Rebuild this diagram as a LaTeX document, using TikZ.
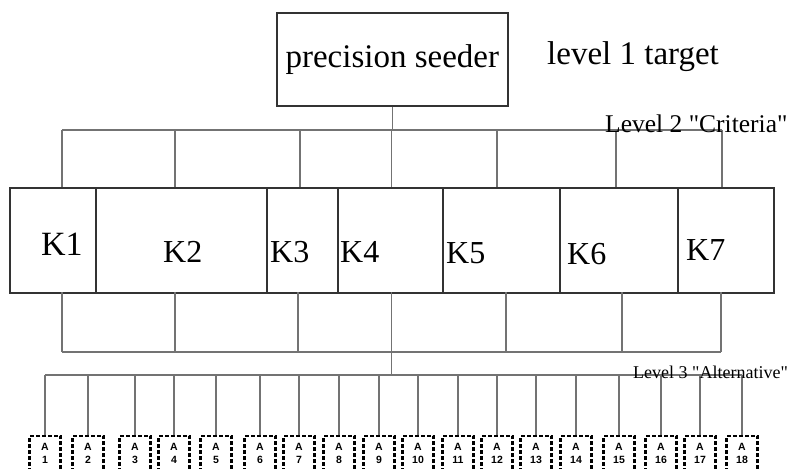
\documentclass[tikz,border=0pt]{standalone}
\usepackage{fontspec}
\setmainfont{Liberation Serif}
\setsansfont{Liberation Sans}
\newfontfamily\plainq{Liberation Serif}
\begin{document}
\begin{tikzpicture}[x=1pt,y=-1pt,
  conn/.style={draw=black!55, line width=1.3pt},
  frame/.style={draw=black!80, line width=1.6pt, inner sep=0pt, anchor=north west},
  klabel/.style={font=\fontsize{32}{34}\selectfont, inner sep=0pt, anchor=base west},
  altbox/.style={draw=black, line width=2.2pt, dash pattern=on 4pt off 2pt,
    minimum width=31pt, minimum height=50pt, inner sep=0pt, anchor=north},
  alttext/.style={inner sep=0pt, align=center,
    font=\sffamily\bfseries\fontsize{10.5}{13}\selectfont},
  lvl/.style={inner sep=0pt, anchor=base west}
]
\clip (0,0) rectangle (796,469);
\fill[white] (0,0) rectangle (796,469);

% level 1
\node[frame, minimum width=231pt, minimum height=93pt,
      font=\fontsize{33}{36}\selectfont] (goal) at (276,12) {precision seeder};
\node[lvl, font=\fontsize{33}{36}\selectfont] (l1) at (547,64) {level 1 target};

% criteria boxes
\node[frame, minimum width=86pt,  minimum height=105pt] (k1) at (9,187) {};
\node[frame, minimum width=171pt, minimum height=105pt] (k2) at (95,187) {};
\node[frame, minimum width=71pt,  minimum height=105pt] (k3) at (266,187) {};
\node[frame, minimum width=105pt, minimum height=105pt] (k4) at (337,187) {};
\node[frame, minimum width=117pt, minimum height=105pt] (k5) at (442,187) {};
\node[frame, minimum width=118pt, minimum height=105pt] (k6) at (559,187) {};
\node[frame, minimum width=96pt,  minimum height=105pt] (k7) at (677,187) {};

\node[klabel, font=\fontsize{34}{36}\selectfont] (k1l) at (41,255) {K1};
\node[klabel] (k2l) at (163,262) {K2};
\node[klabel] (k3l) at (270,262) {K3};
\node[klabel] (k4l) at (340,262) {K4};
\node[klabel] (k5l) at (446,263) {K5};
\node[klabel] (k6l) at (567,264) {K6};
\node[klabel] (k7l) at (686,260) {K7};

% top connectors
\coordinate (tb) at (391.5,130);
\coordinate (tl) at (62,130);
\coordinate (tr) at (722,130);
\draw[conn] (goal.south) -- (goal.south |- tb);
\draw[conn] (tl) -- (tr);
\foreach \x [count=\i] in {62,175,300,391.5,497,616,722}{
  \coordinate (tu\i) at (\x,130);
  \coordinate (td\i) at (\x,187);
  \draw[conn] (tu\i) -- (td\i);
}

% bottom connectors
\coordinate (bl) at (62,352);
\coordinate (br) at (721,352);
\foreach \x [count=\i] in {62,175,298,391.5,506,622,721}{
  \coordinate (bu\i) at (\x,292);
  \coordinate (bd\i) at (\x,352);
  \draw[conn] (bu\i) -- (bd\i);
}
\draw[conn] (bl) -- (br);
\coordinate (am) at (391.5,375);
\draw[conn] (bd4) -- (am);
\coordinate (al) at (45,375);
\coordinate (ar) at (742,375);
\draw[conn] (al) -- (ar);

% alternatives
\foreach \x [count=\i] in {45,88,135,174,216,260,299,339,379,418,458,497,536,576,619,661,700,742}{
  \coordinate (ab\i) at (\x,375);
  \node[altbox] (a\i) at (\x,435) {};
  \node[alttext] (t\i) at (\x,453) {A\\\i};
  \draw[conn] (ab\i) -- (a\i.north);
}

% level labels
\node[lvl, font=\plainq\fontsize{25.5}{27}\selectfont] (l2) at (605,132) {Level 2 "Criteria"};
\node[lvl, font=\plainq\fontsize{18}{20}\selectfont] (l3) at (633,378) {Level 3 "Alternative"};
\end{tikzpicture}
\end{document}
